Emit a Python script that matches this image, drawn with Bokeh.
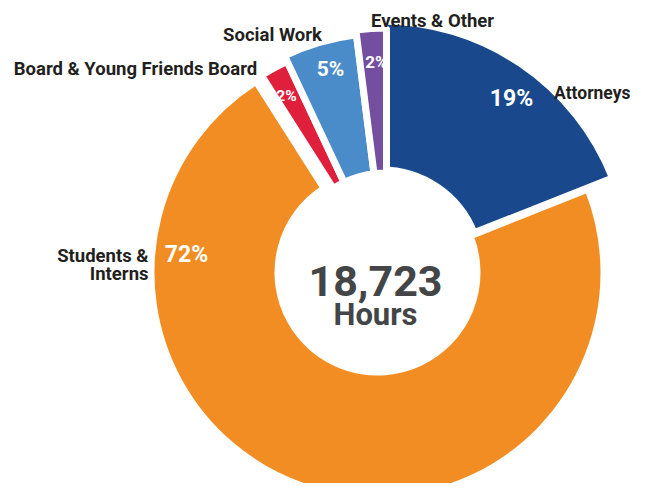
import numpy as np
from bokeh.plotting import figure
from bokeh.models import Range1d, ColumnDataSource
from bokeh.core.properties import value
from bokeh.embed import file_html
from bokeh.resources import INLINE

# ---------------- data ----------------
categories = ["Attorneys", "Students & Interns", "Board & Young Friends Board",
              "Social Work", "Events & Other"]
percent = [19, 72, 2, 5, 2]
pct_labels = ["19%", "72%", "2%", "5%", "2%"]
total_text = "18,723"
unit_text = "Hours"

# ---------------- style ----------------
colors = ["#19498c", "#f18d22", "#e01f3d", "#4a8cca", "#744fa0"]
outer_r = [245, 223, 230, 236, 241]   # px, per slice
shift_x = [4, 0, 9, 9, 9]             # px, per-slice explode offset
shift_y = [-3, 0, 0, 0, 0]            # px (screen, down positive)
inner_r = 103
gap = 7
FONT = "Roboto"

W, H = 633, 483
OX, OY = 1, 8   # page offset of the plot canvas


def px(X, Y):
    """reference pixel -> data coords"""
    return X - OX, (H + OY) - Y


p = figure(width=W, height=H, x_range=Range1d(0, W), y_range=Range1d(0, H),
           output_backend="svg", toolbar_location=None, min_border=0)
p.axis.visible = False
p.grid.visible = False
p.outline_line_color = None
p.background_fill_color = "white"

CX, CY = 378, 280
cum = np.concatenate([[0], np.cumsum(percent)])
start = [np.radians(90 - cum[i + 1] * 3.6) for i in range(len(percent))]
end = [np.radians(90 - cum[i] * 3.6) for i in range(len(percent))]
xs, ys = zip(*[px(CX + dx, CY + dy) for dx, dy in zip(shift_x, shift_y)])

src = ColumnDataSource(dict(
    x=list(xs), y=list(ys),
    start=start, end=end, color=colors,
    outer=[r + gap / 2 for r in outer_r], cat=categories))
p.annular_wedge(x="x", y="y", inner_radius=inner_r - gap / 2, outer_radius="outer",
                start_angle="start", end_angle="end", fill_color="color",
                line_color="white", line_width=gap, source=src)

# category labels (ref pixel positions)
name_pos = {
    "Attorneys": (631, 100, "right", 17.5),
    "Events & Other": (433, 28, "center", 18.5),
    "Social Work": (273, 42, "center", 18.5),
    "Board & Young Friends Board": (136, 76, "center", 18.5),
}
for name, (X, Y, al, fs) in name_pos.items():
    x, y = px(X, Y)
    p.text(x=[x], y=[y], text=[name], text_font=value(FONT), text_font_style="bold",
           text_font_size=f"{fs}px", text_color="#231f20", text_align=al,
           text_baseline="alphabetic")
for line, Y in zip(["Students &", "Interns"], [263, 281]):
    x, y = px(149, Y)
    p.text(x=[x], y=[y], text=[line], text_font=value(FONT), text_font_style="bold",
           text_font_size="18.5px", text_color="#231f20", text_align="right",
           text_baseline="alphabetic")

# percentage labels
pct_pos = [(512, 106, 23), (187, 262, 23), (287, 103, 15.5), (331, 76, 21), (377, 69, 17)]
for lab, (X, Y, fs) in zip(pct_labels, pct_pos):
    x, y = px(X, Y)
    p.text(x=[x], y=[y], text=[lab], text_font=value(FONT), text_font_style="bold",
           text_font_size=f"{fs}px", text_color="white", text_align="center",
           text_baseline="alphabetic")

# center text
x, y = px(376, 288)
p.text(x=[x], y=[y], text=[total_text], text_font=value(FONT), text_font_style="bold",
       text_font_size="43px", text_color="#434547", text_align="center",
       text_baseline="alphabetic")
x, y = px(376, 322)
p.text(x=[x], y=[y], text=[unit_text], text_font=value(FONT), text_font_style="bold",
       text_font_size="31px", text_color="#434547", text_align="center",
       text_baseline="alphabetic")

open("out.html", "w").write(file_html(p, INLINE))
